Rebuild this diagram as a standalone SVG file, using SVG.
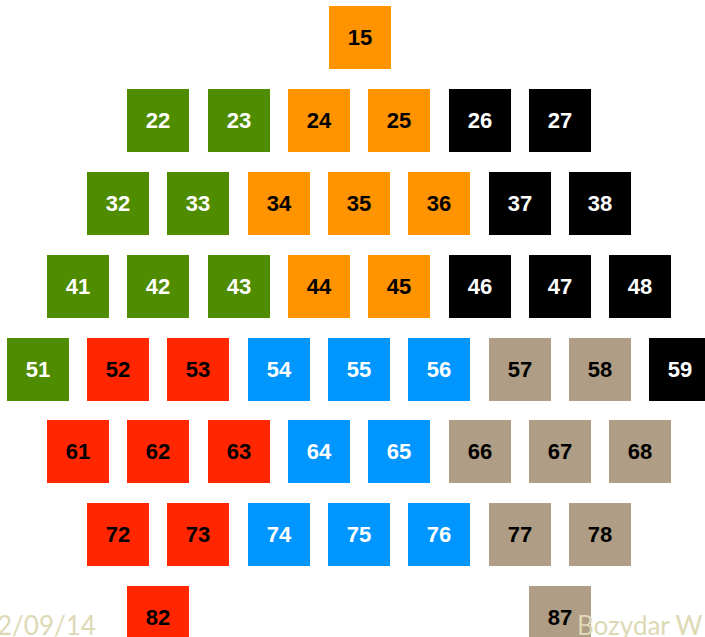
<svg xmlns="http://www.w3.org/2000/svg" width="705" height="637" viewBox="0 0 705 637">
<style>
rect{width:62px;height:63px}
.g rect{fill:#4F8C00}.o rect{fill:#FF9300}.k rect{fill:#000}.r rect{fill:#FF2600}.b rect{fill:#0096FF}.t rect{fill:#B09D85}
text{font-family:"Liberation Sans",Arial,sans-serif;font-weight:bold;font-size:22px;text-anchor:middle}
.g text,.k text,.b text{fill:#fff}
.o text,.r text,.t text{fill:#000}
.f{font-family:Lato,"Open Sans",sans-serif;font-weight:normal;font-size:26px;fill:#DDD9B5;text-anchor:start}
</style>
<g id="n15" class="o"><rect x="329" y="6"/><text x="360" y="45">15</text></g>
<g id="n22" class="g"><rect x="127" y="89"/><text x="158" y="128">22</text></g>
<g id="n23" class="g"><rect x="208" y="89"/><text x="239" y="128">23</text></g>
<g id="n24" class="o"><rect x="288" y="89"/><text x="319" y="128">24</text></g>
<g id="n25" class="o"><rect x="368" y="89"/><text x="399" y="128">25</text></g>
<g id="n26" class="k"><rect x="449" y="89"/><text x="480" y="128">26</text></g>
<g id="n27" class="k"><rect x="529" y="89"/><text x="560" y="128">27</text></g>
<g id="n32" class="g"><rect x="87" y="172"/><text x="118" y="211">32</text></g>
<g id="n33" class="g"><rect x="167" y="172"/><text x="198" y="211">33</text></g>
<g id="n34" class="o"><rect x="248" y="172"/><text x="279" y="211">34</text></g>
<g id="n35" class="o"><rect x="328" y="172"/><text x="359" y="211">35</text></g>
<g id="n36" class="o"><rect x="408" y="172"/><text x="439" y="211">36</text></g>
<g id="n37" class="k"><rect x="489" y="172"/><text x="520" y="211">37</text></g>
<g id="n38" class="k"><rect x="569" y="172"/><text x="600" y="211">38</text></g>
<g id="n41" class="g"><rect x="47" y="255"/><text x="78" y="294">41</text></g>
<g id="n42" class="g"><rect x="127" y="255"/><text x="158" y="294">42</text></g>
<g id="n43" class="g"><rect x="208" y="255"/><text x="239" y="294">43</text></g>
<g id="n44" class="o"><rect x="288" y="255"/><text x="319" y="294">44</text></g>
<g id="n45" class="o"><rect x="368" y="255"/><text x="399" y="294">45</text></g>
<g id="n46" class="k"><rect x="449" y="255"/><text x="480" y="294">46</text></g>
<g id="n47" class="k"><rect x="529" y="255"/><text x="560" y="294">47</text></g>
<g id="n48" class="k"><rect x="609" y="255"/><text x="640" y="294">48</text></g>
<g id="n51" class="g"><rect x="7" y="338"/><text x="38" y="377">51</text></g>
<g id="n52" class="r"><rect x="87" y="338"/><text x="118" y="377">52</text></g>
<g id="n53" class="r"><rect x="167" y="338"/><text x="198" y="377">53</text></g>
<g id="n54" class="b"><rect x="248" y="338"/><text x="279" y="377">54</text></g>
<g id="n55" class="b"><rect x="328" y="338"/><text x="359" y="377">55</text></g>
<g id="n56" class="b"><rect x="408" y="338"/><text x="439" y="377">56</text></g>
<g id="n57" class="t"><rect x="489" y="338"/><text x="520" y="377">57</text></g>
<g id="n58" class="t"><rect x="569" y="338"/><text x="600" y="377">58</text></g>
<g id="n59" class="k"><rect x="649" y="338"/><text x="680" y="377">59</text></g>
<g id="n61" class="r"><rect x="47" y="420"/><text x="78" y="459">61</text></g>
<g id="n62" class="r"><rect x="127" y="420"/><text x="158" y="459">62</text></g>
<g id="n63" class="r"><rect x="208" y="420"/><text x="239" y="459">63</text></g>
<g id="n64" class="b"><rect x="288" y="420"/><text x="319" y="459">64</text></g>
<g id="n65" class="b"><rect x="368" y="420"/><text x="399" y="459">65</text></g>
<g id="n66" class="t"><rect x="449" y="420"/><text x="480" y="459">66</text></g>
<g id="n67" class="t"><rect x="529" y="420"/><text x="560" y="459">67</text></g>
<g id="n68" class="t"><rect x="609" y="420"/><text x="640" y="459">68</text></g>
<g id="n72" class="r"><rect x="87" y="503"/><text x="118" y="542">72</text></g>
<g id="n73" class="r"><rect x="167" y="503"/><text x="198" y="542">73</text></g>
<g id="n74" class="b"><rect x="248" y="503"/><text x="279" y="542">74</text></g>
<g id="n75" class="b"><rect x="328" y="503"/><text x="359" y="542">75</text></g>
<g id="n76" class="b"><rect x="408" y="503"/><text x="439" y="542">76</text></g>
<g id="n77" class="t"><rect x="489" y="503"/><text x="520" y="542">77</text></g>
<g id="n78" class="t"><rect x="569" y="503"/><text x="600" y="542">78</text></g>
<g id="n82" class="r"><rect x="127" y="586"/><text x="158" y="625">82</text></g>
<g id="n87" class="t"><rect x="529" y="586"/><text x="560" y="625">87</text></g>
<g id="connectors"></g>
<text class="f" x="-3" y="635">2/09/14</text>
<text class="f" x="577" y="635">Bozydar W</text>
</svg>
